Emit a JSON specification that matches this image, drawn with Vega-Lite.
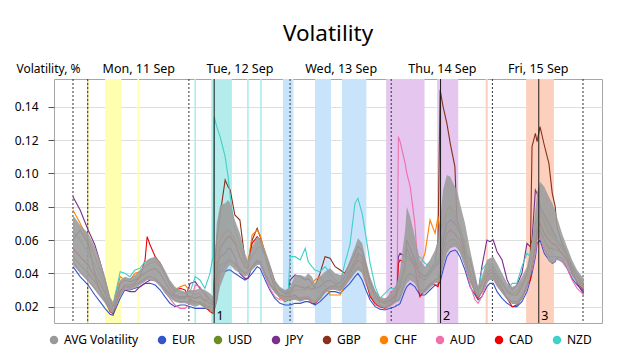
{
  "$schema": "https://vega.github.io/schema/vega-lite/v6.json",
  "autosize": {"type": "none"},
  "width": 548,
  "height": 244,
  "padding": {"left": 54, "top": 79, "right": 23, "bottom": 31},
  "background": "white",
  "title": {"text": "Volatility", "fontSize": 22.5, "font": "Noto Sans", "fontWeight": "normal", "color": "#000000", "anchor": "middle", "offset": 17},
  "config": {
    "view": {"stroke": "#a6a6a6"},
    "font": "Noto Sans"
  },
  "datasets": {
    "events": [
      {"h1": 4.1, "h2": 8.0, "ccy": "USD"},
      {"h1": 11.8, "h2": 12.2, "ccy": "USD"},
      {"h1": 25.3, "h2": 25.7, "ccy": "NZD"},
      {"h1": 29.3, "h2": 34.2, "ccy": "NZD"},
      {"h1": 37.8, "h2": 38.2, "ccy": "NZD"},
      {"h1": 40.9, "h2": 41.3, "ccy": "NZD"},
      {"h1": 46.3, "h2": 48.8, "ccy": "EUR"},
      {"h1": 53.9, "h2": 57.7, "ccy": "EUR"},
      {"h1": 60.3, "h2": 66.1, "ccy": "EUR"},
      {"h1": 70.8, "h2": 79.9, "ccy": "JPY"},
      {"h1": 82.9, "h2": 87.9, "ccy": "JPY"},
      {"h1": 94.4, "h2": 94.9, "ccy": "CHF"},
      {"h1": 104.0, "h2": 110.6, "ccy": "CHF"}
    ],
    "days": [{"h": -3.5}, {"h": 0}, {"h": 24}, {"h": 48}, {"h": 72}, {"h": 96}, {"h": 117.5}],
    "news": [{"h": 30.0, "n": "1"}, {"h": 83.7, "n": "2"}, {"h": 107.0, "n": "3"}],
    "vol": [
      {"h": -3.5, "lo": 0.045, "hi": 0.075, "EUR": 0.044, "USD": 0.050, "JPY": 0.086, "GBP": 0.060, "CHF": 0.078, "AUD": 0.047, "CAD": 0.055, "NZD": 0.065},
      {"h": -1.8, "lo": 0.040, "hi": 0.069, "EUR": 0.038, "USD": 0.045, "JPY": 0.078, "GBP": 0.066, "CHF": 0.070, "AUD": 0.041, "CAD": 0.050, "NZD": 0.060},
      {"h": 0.1, "lo": 0.035, "hi": 0.064, "EUR": 0.033, "USD": 0.040, "JPY": 0.066, "GBP": 0.058, "CHF": 0.060, "AUD": 0.036, "CAD": 0.045, "NZD": 0.052},
      {"h": 1.7, "lo": 0.030, "hi": 0.056, "EUR": 0.027, "USD": 0.035, "JPY": 0.057, "GBP": 0.040, "CHF": 0.050, "AUD": 0.031, "CAD": 0.038, "NZD": 0.045},
      {"h": 2.9, "lo": 0.026, "hi": 0.048, "EUR": 0.023, "USD": 0.030, "JPY": 0.047, "GBP": 0.034, "CHF": 0.042, "AUD": 0.027, "CAD": 0.030, "NZD": 0.038},
      {"h": 4.1, "lo": 0.022, "hi": 0.038, "EUR": 0.019, "USD": 0.025, "JPY": 0.036, "GBP": 0.028, "CHF": 0.033, "AUD": 0.023, "CAD": 0.024, "NZD": 0.030},
      {"h": 5.3, "lo": 0.017, "hi": 0.026, "EUR": 0.0155, "USD": 0.019, "JPY": 0.024, "GBP": 0.020, "CHF": 0.022, "AUD": 0.018, "CAD": 0.017, "NZD": 0.021},
      {"h": 6.0, "lo": 0.016, "hi": 0.023, "EUR": 0.0148, "USD": 0.017, "JPY": 0.020, "GBP": 0.018, "CHF": 0.019, "AUD": 0.017, "CAD": 0.0158, "NZD": 0.018},
      {"h": 6.5, "lo": 0.019, "hi": 0.028, "EUR": 0.018, "USD": 0.021, "JPY": 0.024, "GBP": 0.023, "CHF": 0.026, "AUD": 0.020, "CAD": 0.020, "NZD": 0.027},
      {"h": 7.7, "lo": 0.026, "hi": 0.036, "EUR": 0.025, "USD": 0.028, "JPY": 0.030, "GBP": 0.034, "CHF": 0.038, "AUD": 0.027, "CAD": 0.029, "NZD": 0.041},
      {"h": 8.8, "lo": 0.030, "hi": 0.038, "EUR": 0.030, "USD": 0.032, "JPY": 0.030, "GBP": 0.036, "CHF": 0.036, "AUD": 0.032, "CAD": 0.033, "NZD": 0.040},
      {"h": 10.0, "lo": 0.030, "hi": 0.037, "EUR": 0.030, "USD": 0.032, "JPY": 0.029, "GBP": 0.035, "CHF": 0.036, "AUD": 0.031, "CAD": 0.033, "NZD": 0.038},
      {"h": 11.2, "lo": 0.031, "hi": 0.039, "EUR": 0.031, "USD": 0.033, "JPY": 0.029, "GBP": 0.036, "CHF": 0.040, "AUD": 0.033, "CAD": 0.034, "NZD": 0.042},
      {"h": 12.4, "lo": 0.033, "hi": 0.042, "EUR": 0.032, "USD": 0.035, "JPY": 0.032, "GBP": 0.038, "CHF": 0.041, "AUD": 0.034, "CAD": 0.038, "NZD": 0.043},
      {"h": 13.6, "lo": 0.035, "hi": 0.046, "EUR": 0.034, "USD": 0.037, "JPY": 0.034, "GBP": 0.040, "CHF": 0.044, "AUD": 0.036, "CAD": 0.048, "NZD": 0.047},
      {"h": 14.1, "lo": 0.036, "hi": 0.048, "EUR": 0.034, "USD": 0.038, "JPY": 0.035, "GBP": 0.041, "CHF": 0.045, "AUD": 0.037, "CAD": 0.062, "NZD": 0.047},
      {"h": 14.8, "lo": 0.036, "hi": 0.049, "EUR": 0.034, "USD": 0.038, "JPY": 0.036, "GBP": 0.042, "CHF": 0.046, "AUD": 0.038, "CAD": 0.057, "NZD": 0.048},
      {"h": 16.0, "lo": 0.035, "hi": 0.050, "EUR": 0.033, "USD": 0.037, "JPY": 0.036, "GBP": 0.043, "CHF": 0.047, "AUD": 0.037, "CAD": 0.050, "NZD": 0.049},
      {"h": 17.2, "lo": 0.032, "hi": 0.047, "EUR": 0.030, "USD": 0.034, "JPY": 0.034, "GBP": 0.040, "CHF": 0.044, "AUD": 0.034, "CAD": 0.046, "NZD": 0.045},
      {"h": 18.3, "lo": 0.028, "hi": 0.042, "EUR": 0.026, "USD": 0.030, "JPY": 0.031, "GBP": 0.035, "CHF": 0.039, "AUD": 0.029, "CAD": 0.040, "NZD": 0.040},
      {"h": 19.5, "lo": 0.025, "hi": 0.036, "EUR": 0.022, "USD": 0.027, "JPY": 0.028, "GBP": 0.030, "CHF": 0.034, "AUD": 0.025, "CAD": 0.033, "NZD": 0.034},
      {"h": 20.7, "lo": 0.023, "hi": 0.032, "EUR": 0.020, "USD": 0.024, "JPY": 0.026, "GBP": 0.027, "CHF": 0.030, "AUD": 0.021, "CAD": 0.029, "NZD": 0.030},
      {"h": 21.9, "lo": 0.022, "hi": 0.030, "EUR": 0.021, "USD": 0.023, "JPY": 0.025, "GBP": 0.026, "CHF": 0.032, "AUD": 0.019, "CAD": 0.031, "NZD": 0.029},
      {"h": 23.1, "lo": 0.022, "hi": 0.029, "EUR": 0.021, "USD": 0.023, "JPY": 0.025, "GBP": 0.026, "CHF": 0.033, "AUD": 0.019, "CAD": 0.030, "NZD": 0.028},
      {"h": 24.3, "lo": 0.021, "hi": 0.030, "EUR": 0.020, "USD": 0.023, "JPY": 0.034, "GBP": 0.026, "CHF": 0.029, "AUD": 0.022, "CAD": 0.024, "NZD": 0.029},
      {"h": 25.5, "lo": 0.020, "hi": 0.030, "EUR": 0.019, "USD": 0.022, "JPY": 0.035, "GBP": 0.025, "CHF": 0.027, "AUD": 0.033, "CAD": 0.023, "NZD": 0.038},
      {"h": 26.6, "lo": 0.021, "hi": 0.031, "EUR": 0.019, "USD": 0.023, "JPY": 0.031, "GBP": 0.026, "CHF": 0.028, "AUD": 0.032, "CAD": 0.022, "NZD": 0.036},
      {"h": 27.8, "lo": 0.019, "hi": 0.030, "EUR": 0.019, "USD": 0.021, "JPY": 0.028, "GBP": 0.024, "CHF": 0.022, "AUD": 0.027, "CAD": 0.020, "NZD": 0.031},
      {"h": 29.0, "lo": 0.018, "hi": 0.028, "EUR": 0.018, "USD": 0.020, "JPY": 0.024, "GBP": 0.022, "CHF": 0.018, "AUD": 0.021, "CAD": 0.017, "NZD": 0.040},
      {"h": 29.7, "lo": 0.016, "hi": 0.026, "EUR": 0.017, "USD": 0.019, "JPY": 0.022, "GBP": 0.021, "CHF": 0.017, "AUD": 0.019, "CAD": 0.016, "NZD": 0.050},
      {"h": 30.0, "lo": 0.017, "hi": 0.040, "EUR": 0.018, "USD": 0.022, "JPY": 0.028, "GBP": 0.035, "CHF": 0.025, "AUD": 0.024, "CAD": 0.020, "NZD": 0.134},
      {"h": 30.6, "lo": 0.022, "hi": 0.070, "EUR": 0.024, "USD": 0.035, "JPY": 0.045, "GBP": 0.060, "CHF": 0.050, "AUD": 0.030, "CAD": 0.040, "NZD": 0.128},
      {"h": 31.4, "lo": 0.032, "hi": 0.081, "EUR": 0.042, "USD": 0.045, "JPY": 0.050, "GBP": 0.075, "CHF": 0.060, "AUD": 0.040, "CAD": 0.055, "NZD": 0.122},
      {"h": 32.6, "lo": 0.040, "hi": 0.082, "EUR": 0.041, "USD": 0.046, "JPY": 0.052, "GBP": 0.096, "CHF": 0.065, "AUD": 0.045, "CAD": 0.060, "NZD": 0.110},
      {"h": 33.3, "lo": 0.044, "hi": 0.084, "EUR": 0.042, "USD": 0.048, "JPY": 0.055, "GBP": 0.092, "CHF": 0.066, "AUD": 0.047, "CAD": 0.062, "NZD": 0.098},
      {"h": 33.8, "lo": 0.045, "hi": 0.082, "EUR": 0.042, "USD": 0.048, "JPY": 0.055, "GBP": 0.090, "CHF": 0.065, "AUD": 0.048, "CAD": 0.062, "NZD": 0.086},
      {"h": 34.9, "lo": 0.042, "hi": 0.072, "EUR": 0.040, "USD": 0.046, "JPY": 0.050, "GBP": 0.075, "CHF": 0.060, "AUD": 0.045, "CAD": 0.058, "NZD": 0.066},
      {"h": 36.1, "lo": 0.040, "hi": 0.064, "EUR": 0.038, "USD": 0.043, "JPY": 0.040, "GBP": 0.072, "CHF": 0.055, "AUD": 0.042, "CAD": 0.050, "NZD": 0.058},
      {"h": 37.3, "lo": 0.038, "hi": 0.052, "EUR": 0.036, "USD": 0.040, "JPY": 0.037, "GBP": 0.048, "CHF": 0.046, "AUD": 0.040, "CAD": 0.044, "NZD": 0.048},
      {"h": 38.0, "lo": 0.039, "hi": 0.048, "EUR": 0.037, "USD": 0.041, "JPY": 0.037, "GBP": 0.046, "CHF": 0.045, "AUD": 0.041, "CAD": 0.043, "NZD": 0.046},
      {"h": 39.0, "lo": 0.042, "hi": 0.056, "EUR": 0.040, "USD": 0.044, "JPY": 0.044, "GBP": 0.060, "CHF": 0.063, "AUD": 0.043, "CAD": 0.058, "NZD": 0.050},
      {"h": 40.2, "lo": 0.045, "hi": 0.062, "EUR": 0.044, "USD": 0.047, "JPY": 0.048, "GBP": 0.067, "CHF": 0.066, "AUD": 0.046, "CAD": 0.062, "NZD": 0.055},
      {"h": 40.9, "lo": 0.045, "hi": 0.061, "EUR": 0.043, "USD": 0.047, "JPY": 0.046, "GBP": 0.062, "CHF": 0.063, "AUD": 0.046, "CAD": 0.060, "NZD": 0.056},
      {"h": 42.1, "lo": 0.038, "hi": 0.054, "EUR": 0.036, "USD": 0.040, "JPY": 0.039, "GBP": 0.052, "CHF": 0.052, "AUD": 0.038, "CAD": 0.050, "NZD": 0.050},
      {"h": 43.2, "lo": 0.032, "hi": 0.046, "EUR": 0.030, "USD": 0.034, "JPY": 0.034, "GBP": 0.044, "CHF": 0.042, "AUD": 0.031, "CAD": 0.040, "NZD": 0.042},
      {"h": 44.4, "lo": 0.028, "hi": 0.036, "EUR": 0.025, "USD": 0.029, "JPY": 0.030, "GBP": 0.035, "CHF": 0.033, "AUD": 0.026, "CAD": 0.031, "NZD": 0.034},
      {"h": 45.6, "lo": 0.025, "hi": 0.032, "EUR": 0.022, "USD": 0.026, "JPY": 0.027, "GBP": 0.030, "CHF": 0.025, "AUD": 0.024, "CAD": 0.027, "NZD": 0.031},
      {"h": 46.8, "lo": 0.024, "hi": 0.030, "EUR": 0.021, "USD": 0.023, "JPY": 0.026, "GBP": 0.028, "CHF": 0.025, "AUD": 0.024, "CAD": 0.026, "NZD": 0.029},
      {"h": 47.6, "lo": 0.024, "hi": 0.031, "EUR": 0.021, "USD": 0.024, "JPY": 0.030, "GBP": 0.028, "CHF": 0.027, "AUD": 0.025, "CAD": 0.026, "NZD": 0.030},
      {"h": 48.0, "lo": 0.024, "hi": 0.032, "EUR": 0.021, "USD": 0.024, "JPY": 0.036, "GBP": 0.029, "CHF": 0.028, "AUD": 0.025, "CAD": 0.026, "NZD": 0.050},
      {"h": 49.2, "lo": 0.024, "hi": 0.039, "EUR": 0.022, "USD": 0.025, "JPY": 0.039, "GBP": 0.033, "CHF": 0.030, "AUD": 0.026, "CAD": 0.027, "NZD": 0.050},
      {"h": 50.4, "lo": 0.023, "hi": 0.039, "EUR": 0.022, "USD": 0.025, "JPY": 0.038, "GBP": 0.032, "CHF": 0.030, "AUD": 0.025, "CAD": 0.024, "NZD": 0.048},
      {"h": 51.6, "lo": 0.024, "hi": 0.038, "EUR": 0.023, "USD": 0.026, "JPY": 0.036, "GBP": 0.031, "CHF": 0.030, "AUD": 0.026, "CAD": 0.025, "NZD": 0.055},
      {"h": 52.3, "lo": 0.024, "hi": 0.040, "EUR": 0.023, "USD": 0.026, "JPY": 0.037, "GBP": 0.032, "CHF": 0.031, "AUD": 0.026, "CAD": 0.025, "NZD": 0.047},
      {"h": 53.2, "lo": 0.022, "hi": 0.038, "EUR": 0.022, "USD": 0.024, "JPY": 0.034, "GBP": 0.030, "CHF": 0.034, "AUD": 0.024, "CAD": 0.022, "NZD": 0.044},
      {"h": 53.9, "lo": 0.022, "hi": 0.034, "EUR": 0.021, "USD": 0.023, "JPY": 0.031, "GBP": 0.032, "CHF": 0.036, "AUD": 0.023, "CAD": 0.022, "NZD": 0.042},
      {"h": 55.1, "lo": 0.024, "hi": 0.038, "EUR": 0.023, "USD": 0.026, "JPY": 0.032, "GBP": 0.040, "CHF": 0.038, "AUD": 0.025, "CAD": 0.025, "NZD": 0.041},
      {"h": 56.3, "lo": 0.028, "hi": 0.041, "EUR": 0.026, "USD": 0.030, "JPY": 0.035, "GBP": 0.050, "CHF": 0.033, "AUD": 0.029, "CAD": 0.030, "NZD": 0.044},
      {"h": 57.5, "lo": 0.030, "hi": 0.043, "EUR": 0.029, "USD": 0.031, "JPY": 0.036, "GBP": 0.049, "CHF": 0.027, "AUD": 0.031, "CAD": 0.032, "NZD": 0.040},
      {"h": 58.7, "lo": 0.030, "hi": 0.040, "EUR": 0.029, "USD": 0.032, "JPY": 0.034, "GBP": 0.044, "CHF": 0.027, "AUD": 0.031, "CAD": 0.033, "NZD": 0.036},
      {"h": 59.9, "lo": 0.029, "hi": 0.039, "EUR": 0.028, "USD": 0.031, "JPY": 0.034, "GBP": 0.042, "CHF": 0.027, "AUD": 0.030, "CAD": 0.032, "NZD": 0.034},
      {"h": 61.0, "lo": 0.032, "hi": 0.040, "EUR": 0.031, "USD": 0.034, "JPY": 0.038, "GBP": 0.040, "CHF": 0.033, "AUD": 0.033, "CAD": 0.035, "NZD": 0.046},
      {"h": 62.2, "lo": 0.036, "hi": 0.048, "EUR": 0.034, "USD": 0.038, "JPY": 0.042, "GBP": 0.046, "CHF": 0.040, "AUD": 0.037, "CAD": 0.040, "NZD": 0.057},
      {"h": 63.4, "lo": 0.040, "hi": 0.056, "EUR": 0.038, "USD": 0.042, "JPY": 0.048, "GBP": 0.052, "CHF": 0.046, "AUD": 0.041, "CAD": 0.045, "NZD": 0.082},
      {"h": 64.1, "lo": 0.042, "hi": 0.061, "EUR": 0.040, "USD": 0.044, "JPY": 0.052, "GBP": 0.056, "CHF": 0.050, "AUD": 0.043, "CAD": 0.048, "NZD": 0.085},
      {"h": 65.1, "lo": 0.040, "hi": 0.058, "EUR": 0.036, "USD": 0.042, "JPY": 0.050, "GBP": 0.054, "CHF": 0.048, "AUD": 0.041, "CAD": 0.046, "NZD": 0.076},
      {"h": 66.0, "lo": 0.034, "hi": 0.048, "EUR": 0.030, "USD": 0.035, "JPY": 0.042, "GBP": 0.045, "CHF": 0.040, "AUD": 0.034, "CAD": 0.036, "NZD": 0.062},
      {"h": 67.0, "lo": 0.027, "hi": 0.038, "EUR": 0.024, "USD": 0.028, "JPY": 0.033, "GBP": 0.035, "CHF": 0.031, "AUD": 0.027, "CAD": 0.026, "NZD": 0.046},
      {"h": 68.2, "lo": 0.022, "hi": 0.030, "EUR": 0.020, "USD": 0.023, "JPY": 0.026, "GBP": 0.028, "CHF": 0.025, "AUD": 0.021, "CAD": 0.022, "NZD": 0.032},
      {"h": 69.3, "lo": 0.020, "hi": 0.026, "EUR": 0.0185, "USD": 0.021, "JPY": 0.023, "GBP": 0.024, "CHF": 0.022, "AUD": 0.020, "CAD": 0.020, "NZD": 0.025},
      {"h": 70.5, "lo": 0.019, "hi": 0.025, "EUR": 0.018, "USD": 0.020, "JPY": 0.022, "GBP": 0.023, "CHF": 0.024, "AUD": 0.020, "CAD": 0.019, "NZD": 0.028},
      {"h": 71.7, "lo": 0.020, "hi": 0.027, "EUR": 0.019, "USD": 0.021, "JPY": 0.023, "GBP": 0.024, "CHF": 0.026, "AUD": 0.028, "CAD": 0.021, "NZD": 0.031},
      {"h": 72.9, "lo": 0.022, "hi": 0.032, "EUR": 0.020, "USD": 0.023, "JPY": 0.026, "GBP": 0.027, "CHF": 0.030, "AUD": 0.031, "CAD": 0.024, "NZD": 0.031},
      {"h": 73.4, "lo": 0.023, "hi": 0.035, "EUR": 0.021, "USD": 0.024, "JPY": 0.032, "GBP": 0.029, "CHF": 0.031, "AUD": 0.033, "CAD": 0.028, "NZD": 0.033},
      {"h": 73.7, "lo": 0.023, "hi": 0.038, "EUR": 0.021, "USD": 0.024, "JPY": 0.050, "GBP": 0.030, "CHF": 0.032, "AUD": 0.122, "CAD": 0.046, "NZD": 0.034},
      {"h": 74.1, "lo": 0.024, "hi": 0.042, "EUR": 0.022, "USD": 0.026, "JPY": 0.052, "GBP": 0.032, "CHF": 0.034, "AUD": 0.119, "CAD": 0.048, "NZD": 0.036},
      {"h": 75.3, "lo": 0.032, "hi": 0.066, "EUR": 0.030, "USD": 0.036, "JPY": 0.050, "GBP": 0.045, "CHF": 0.042, "AUD": 0.106, "CAD": 0.046, "NZD": 0.046},
      {"h": 75.7, "lo": 0.034, "hi": 0.080, "EUR": 0.032, "USD": 0.038, "JPY": 0.055, "GBP": 0.060, "CHF": 0.050, "AUD": 0.100, "CAD": 0.050, "NZD": 0.050},
      {"h": 76.5, "lo": 0.036, "hi": 0.074, "EUR": 0.034, "USD": 0.040, "JPY": 0.050, "GBP": 0.055, "CHF": 0.048, "AUD": 0.092, "CAD": 0.048, "NZD": 0.047},
      {"h": 77.6, "lo": 0.034, "hi": 0.062, "EUR": 0.032, "USD": 0.038, "JPY": 0.046, "GBP": 0.048, "CHF": 0.044, "AUD": 0.070, "CAD": 0.044, "NZD": 0.048},
      {"h": 78.8, "lo": 0.028, "hi": 0.048, "EUR": 0.027, "USD": 0.030, "JPY": 0.038, "GBP": 0.040, "CHF": 0.044, "AUD": 0.027, "CAD": 0.026, "NZD": 0.050},
      {"h": 80.0, "lo": 0.028, "hi": 0.044, "EUR": 0.027, "USD": 0.030, "JPY": 0.036, "GBP": 0.038, "CHF": 0.052, "AUD": 0.030, "CAD": 0.030, "NZD": 0.046},
      {"h": 81.2, "lo": 0.031, "hi": 0.048, "EUR": 0.030, "USD": 0.033, "JPY": 0.040, "GBP": 0.042, "CHF": 0.072, "AUD": 0.033, "CAD": 0.034, "NZD": 0.044},
      {"h": 82.4, "lo": 0.034, "hi": 0.054, "EUR": 0.033, "USD": 0.036, "JPY": 0.044, "GBP": 0.046, "CHF": 0.064, "AUD": 0.036, "CAD": 0.033, "NZD": 0.046},
      {"h": 83.1, "lo": 0.034, "hi": 0.060, "EUR": 0.033, "USD": 0.037, "JPY": 0.046, "GBP": 0.060, "CHF": 0.074, "AUD": 0.036, "CAD": 0.032, "NZD": 0.048},
      {"h": 83.6, "lo": 0.036, "hi": 0.072, "EUR": 0.035, "USD": 0.040, "JPY": 0.050, "GBP": 0.150, "CHF": 0.066, "AUD": 0.038, "CAD": 0.040, "NZD": 0.052},
      {"h": 84.3, "lo": 0.044, "hi": 0.090, "EUR": 0.042, "USD": 0.050, "JPY": 0.060, "GBP": 0.140, "CHF": 0.070, "AUD": 0.046, "CAD": 0.055, "NZD": 0.065},
      {"h": 85.2, "lo": 0.052, "hi": 0.099, "EUR": 0.050, "USD": 0.058, "JPY": 0.070, "GBP": 0.130, "CHF": 0.078, "AUD": 0.054, "CAD": 0.064, "NZD": 0.075},
      {"h": 86.0, "lo": 0.055, "hi": 0.098, "EUR": 0.053, "USD": 0.060, "JPY": 0.072, "GBP": 0.118, "CHF": 0.080, "AUD": 0.057, "CAD": 0.066, "NZD": 0.076},
      {"h": 87.1, "lo": 0.056, "hi": 0.092, "EUR": 0.054, "USD": 0.060, "JPY": 0.070, "GBP": 0.104, "CHF": 0.075, "AUD": 0.058, "CAD": 0.064, "NZD": 0.072},
      {"h": 87.6, "lo": 0.055, "hi": 0.090, "EUR": 0.053, "USD": 0.059, "JPY": 0.068, "GBP": 0.072, "CHF": 0.072, "AUD": 0.057, "CAD": 0.062, "NZD": 0.070},
      {"h": 88.3, "lo": 0.052, "hi": 0.082, "EUR": 0.050, "USD": 0.056, "JPY": 0.064, "GBP": 0.066, "CHF": 0.068, "AUD": 0.054, "CAD": 0.060, "NZD": 0.066},
      {"h": 89.5, "lo": 0.044, "hi": 0.070, "EUR": 0.042, "USD": 0.048, "JPY": 0.055, "GBP": 0.052, "CHF": 0.058, "AUD": 0.045, "CAD": 0.050, "NZD": 0.056},
      {"h": 90.7, "lo": 0.034, "hi": 0.054, "EUR": 0.032, "USD": 0.037, "JPY": 0.042, "GBP": 0.048, "CHF": 0.040, "AUD": 0.033, "CAD": 0.038, "NZD": 0.038},
      {"h": 91.9, "lo": 0.028, "hi": 0.040, "EUR": 0.027, "USD": 0.030, "JPY": 0.032, "GBP": 0.036, "CHF": 0.034, "AUD": 0.024, "CAD": 0.028, "NZD": 0.032},
      {"h": 92.6, "lo": 0.025, "hi": 0.032, "EUR": 0.024, "USD": 0.026, "JPY": 0.028, "GBP": 0.030, "CHF": 0.029, "AUD": 0.022, "CAD": 0.025, "NZD": 0.028},
      {"h": 93.5, "lo": 0.028, "hi": 0.038, "EUR": 0.026, "USD": 0.029, "JPY": 0.044, "GBP": 0.034, "CHF": 0.033, "AUD": 0.026, "CAD": 0.029, "NZD": 0.042},
      {"h": 94.7, "lo": 0.034, "hi": 0.048, "EUR": 0.032, "USD": 0.036, "JPY": 0.060, "GBP": 0.040, "CHF": 0.042, "AUD": 0.035, "CAD": 0.038, "NZD": 0.046},
      {"h": 95.4, "lo": 0.036, "hi": 0.049, "EUR": 0.034, "USD": 0.038, "JPY": 0.059, "GBP": 0.042, "CHF": 0.044, "AUD": 0.037, "CAD": 0.040, "NZD": 0.045},
      {"h": 96.2, "lo": 0.036, "hi": 0.050, "EUR": 0.034, "USD": 0.038, "JPY": 0.060, "GBP": 0.042, "CHF": 0.044, "AUD": 0.037, "CAD": 0.040, "NZD": 0.045},
      {"h": 97.1, "lo": 0.032, "hi": 0.046, "EUR": 0.029, "USD": 0.034, "JPY": 0.053, "GBP": 0.038, "CHF": 0.040, "AUD": 0.033, "CAD": 0.036, "NZD": 0.040},
      {"h": 98.3, "lo": 0.028, "hi": 0.040, "EUR": 0.025, "USD": 0.030, "JPY": 0.048, "GBP": 0.034, "CHF": 0.035, "AUD": 0.029, "CAD": 0.031, "NZD": 0.035},
      {"h": 99.5, "lo": 0.024, "hi": 0.034, "EUR": 0.022, "USD": 0.025, "JPY": 0.036, "GBP": 0.029, "CHF": 0.030, "AUD": 0.025, "CAD": 0.025, "NZD": 0.030},
      {"h": 100.7, "lo": 0.022, "hi": 0.032, "EUR": 0.020, "USD": 0.023, "JPY": 0.030, "GBP": 0.027, "CHF": 0.028, "AUD": 0.022, "CAD": 0.020, "NZD": 0.034},
      {"h": 101.8, "lo": 0.021, "hi": 0.033, "EUR": 0.020, "USD": 0.023, "JPY": 0.033, "GBP": 0.027, "CHF": 0.029, "AUD": 0.022, "CAD": 0.021, "NZD": 0.034},
      {"h": 103.0, "lo": 0.024, "hi": 0.038, "EUR": 0.023, "USD": 0.026, "JPY": 0.040, "GBP": 0.032, "CHF": 0.034, "AUD": 0.025, "CAD": 0.025, "NZD": 0.044},
      {"h": 104.2, "lo": 0.030, "hi": 0.044, "EUR": 0.029, "USD": 0.032, "JPY": 0.058, "GBP": 0.040, "CHF": 0.038, "AUD": 0.031, "CAD": 0.033, "NZD": 0.052},
      {"h": 105.0, "lo": 0.038, "hi": 0.054, "EUR": 0.036, "USD": 0.040, "JPY": 0.056, "GBP": 0.050, "CHF": 0.046, "AUD": 0.038, "CAD": 0.036, "NZD": 0.050},
      {"h": 105.4, "lo": 0.042, "hi": 0.060, "EUR": 0.040, "USD": 0.045, "JPY": 0.060, "GBP": 0.116, "CHF": 0.052, "AUD": 0.042, "CAD": 0.045, "NZD": 0.055},
      {"h": 106.2, "lo": 0.052, "hi": 0.078, "EUR": 0.050, "USD": 0.056, "JPY": 0.090, "GBP": 0.124, "CHF": 0.062, "AUD": 0.052, "CAD": 0.056, "NZD": 0.070},
      {"h": 106.6, "lo": 0.060, "hi": 0.088, "EUR": 0.058, "USD": 0.064, "JPY": 0.088, "GBP": 0.119, "CHF": 0.070, "AUD": 0.060, "CAD": 0.066, "NZD": 0.072},
      {"h": 107.3, "lo": 0.062, "hi": 0.095, "EUR": 0.060, "USD": 0.066, "JPY": 0.080, "GBP": 0.128, "CHF": 0.075, "AUD": 0.062, "CAD": 0.070, "NZD": 0.078},
      {"h": 108.3, "lo": 0.054, "hi": 0.092, "EUR": 0.052, "USD": 0.060, "JPY": 0.075, "GBP": 0.117, "CHF": 0.070, "AUD": 0.054, "CAD": 0.064, "NZD": 0.072},
      {"h": 109.4, "lo": 0.047, "hi": 0.086, "EUR": 0.048, "USD": 0.055, "JPY": 0.070, "GBP": 0.106, "CHF": 0.064, "AUD": 0.050, "CAD": 0.060, "NZD": 0.066},
      {"h": 110.2, "lo": 0.046, "hi": 0.082, "EUR": 0.046, "USD": 0.055, "JPY": 0.066, "GBP": 0.088, "CHF": 0.062, "AUD": 0.050, "CAD": 0.058, "NZD": 0.064},
      {"h": 110.9, "lo": 0.047, "hi": 0.078, "EUR": 0.047, "USD": 0.054, "JPY": 0.063, "GBP": 0.080, "CHF": 0.060, "AUD": 0.050, "CAD": 0.057, "NZD": 0.062},
      {"h": 111.3, "lo": 0.048, "hi": 0.074, "EUR": 0.050, "USD": 0.054, "JPY": 0.060, "GBP": 0.068, "CHF": 0.058, "AUD": 0.049, "CAD": 0.056, "NZD": 0.060},
      {"h": 112.5, "lo": 0.047, "hi": 0.064, "EUR": 0.049, "USD": 0.052, "JPY": 0.056, "GBP": 0.058, "CHF": 0.055, "AUD": 0.047, "CAD": 0.052, "NZD": 0.056},
      {"h": 113.7, "lo": 0.044, "hi": 0.056, "EUR": 0.043, "USD": 0.048, "JPY": 0.050, "GBP": 0.052, "CHF": 0.050, "AUD": 0.043, "CAD": 0.048, "NZD": 0.052},
      {"h": 114.9, "lo": 0.038, "hi": 0.048, "EUR": 0.037, "USD": 0.041, "JPY": 0.042, "GBP": 0.044, "CHF": 0.040, "AUD": 0.036, "CAD": 0.040, "NZD": 0.045},
      {"h": 116.1, "lo": 0.034, "hi": 0.042, "EUR": 0.033, "USD": 0.036, "JPY": 0.034, "GBP": 0.038, "CHF": 0.036, "AUD": 0.031, "CAD": 0.035, "NZD": 0.040},
      {"h": 117.3, "lo": 0.031, "hi": 0.038, "EUR": 0.030, "USD": 0.033, "JPY": 0.029, "GBP": 0.034, "CHF": 0.032, "AUD": 0.028, "CAD": 0.031, "NZD": 0.035},
      {"h": 117.7, "lo": 0.030, "hi": 0.037, "EUR": 0.029, "USD": 0.032, "JPY": 0.028, "GBP": 0.033, "CHF": 0.031, "AUD": 0.027, "CAD": 0.030, "NZD": 0.034}
    ]
  },
  "layer": [
    {
      "data": {"name": "events"},
      "mark": {"type": "rect"},
      "encoding": {
        "x": {"field": "h1", "type": "quantitative", "scale": {"domain": [-8, 122], "nice": false, "zero": false},
          "axis": {"orient": "top", "values": [12, 36, 60, 84, 106.75], "labelExpr": "datum.value == 12 ? 'Mon, 11 Sep' : datum.value == 36 ? 'Tue, 12 Sep' : datum.value == 60 ? 'Wed, 13 Sep' : datum.value == 84 ? 'Thu, 14 Sep' : 'Fri, 15 Sep'", "ticks": false, "tickSize": 0, "domain": false, "grid": false, "title": null, "labelFontSize": 12.5, "labelFont": "Noto Sans", "labelColor": "#000000", "labelPadding": 4, "labelOverlap": false, "labelFlush": false}},
        "x2": {"field": "h2"},
        "y": {"datum": 0.0102, "type": "quantitative"},
        "y2": {"datum": 0.1566},
        "fill": {"field": "ccy", "type": "nominal", "legend": null,
          "scale": {"domain": ["USD", "NZD", "EUR", "JPY", "CHF"], "range": ["#ffffb0", "#b4ecec", "#c8e3fa", "#e4c6ef", "#fcd0bd"]}}
      }
    },
    {
      "data": {"values": [{"h": 0}]},
      "mark": {"type": "rule", "color": "#e0d400", "strokeWidth": 1.2},
      "encoding": {"x": {"field": "h", "type": "quantitative"}}
    },
    {
      "data": {"name": "days"},
      "mark": {"type": "rule", "color": "#333333", "strokeWidth": 1, "strokeDash": [2, 2]},
      "encoding": {"x": {"field": "h", "type": "quantitative"}}
    },
    {
      "data": {"name": "vol"},
      "transform": [{"fold": ["EUR", "USD", "JPY", "GBP", "CHF", "AUD", "CAD", "NZD"], "as": ["cur", "v"]}],
      "mark": {"type": "line", "strokeWidth": 1.1},
      "encoding": {
        "x": {"field": "h", "type": "quantitative"},
        "y": {"field": "v", "type": "quantitative"},
        "color": {"field": "cur", "type": "nominal",
          "scale": {"domain": ["AVG Volatility", "EUR", "USD", "JPY", "GBP", "CHF", "AUD", "CAD", "NZD"],
                    "range": ["#999999", "#3355cc", "#6b8e23", "#7b2d8e", "#8b2e1a", "#ff8000", "#f06eaa", "#ee0000", "#40d0c8"]},
          "legend": {"orient": "none", "legendX": -6, "legendY": 255, "direction": "horizontal", "columns": 9, "title": null,
                     "symbolType": "circle", "symbolSize": 16, "symbolStrokeWidth": 4.5, "labelFontSize": 12, "labelFont": "Noto Sans",
                     "labelColor": "#000000", "columnPadding": 12, "labelOffset": 4, "symbolOpacity": 1}}
      }
    },
    {
      "data": {"name": "vol"},
      "mark": {"type": "area", "color": "#9c9c9c", "opacity": 0.9},
      "encoding": {
        "x": {"field": "h", "type": "quantitative"},
        "y": {"field": "lo", "type": "quantitative", "scale": {"domain": [0.0102, 0.1566], "nice": false, "zero": false},
          "axis": {"values": [0.02, 0.04, 0.06, 0.08, 0.1, 0.12, 0.14], "format": ".2f", "tickSize": 6, "tickColor": "#555555", "domain": false,
                   "grid": true, "gridColor": "#dedede", "labelFontSize": 12, "labelFont": "Noto Sans", "labelColor": "#000000", "labelPadding": 10,
                   "title": "Volatility, %", "titleAngle": 0, "titleAlign": "left", "titleBaseline": "middle", "titleX": -38, "titleY": -11,
                   "titleFontSize": 12, "titleFont": "Noto Sans", "titleFontWeight": "normal", "titleColor": "#000000"}},
        "y2": {"field": "hi"}
      }
    },
    {
      "data": {"name": "news"},
      "mark": {"type": "rule", "color": "#1a1a1a", "strokeWidth": 1},
      "encoding": {"x": {"field": "h", "type": "quantitative"}}
    },
    {
      "data": {"name": "news"},
      "mark": {"type": "text", "fontSize": 12.5, "font": "Noto Sans", "color": "#000000", "dx": 6, "align": "center", "baseline": "middle"},
      "encoding": {
        "x": {"field": "h", "type": "quantitative"},
        "y": {"datum": 0.0144, "type": "quantitative"},
        "text": {"field": "n"}
      }
    }
  ]
}
